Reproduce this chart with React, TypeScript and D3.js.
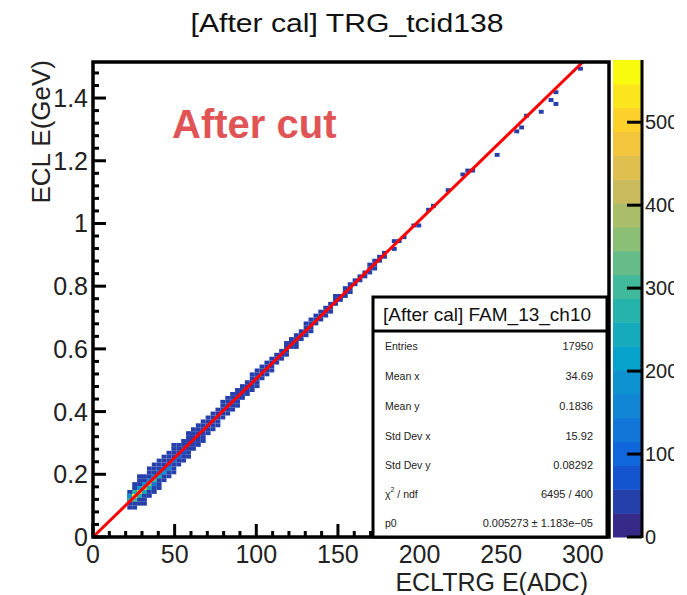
import React from "react";
import * as d3 from "d3";

// ---------- data ----------
const titleText = "[After cal] TRG_tcid138";
const statsTitle = "[After cal] FAM_13_ch10";
const statLabels = ["Entries", "Mean x", "Mean y", "Std Dev x", "Std Dev y", "CHI", "p0"];
const statValues = ["17950", "34.69", "0.1836", "15.92", "0.08292", "6495 / 400", "0.005273 \u00b1 1.183e\u221205"];

const xTicks = [0, 50, 100, 150, 200, 250, 300];
const yTicks = [0, 0.2, 0.4, 0.6, 0.8, 1, 1.2, 1.4];
const zTicks = [0, 100, 200, 300, 400, 500];

const xDomain = [0, 316];
const yDomain = [0, 1.515];
const zMax = 575;
const nContours = 20;
const binW = 3;
const binH = 0.0125;

// dense band: column start (ADC), lower / upper edge (GeV), typical count
const bandX = [21, 24, 27, 30, 33, 36, 39, 42, 45, 48, 51, 54, 57, 60, 63, 66, 69, 72, 75, 78, 81, 84, 87, 90, 93, 96, 99, 102, 105, 108, 111, 114, 117, 120, 123, 126, 129, 132, 135, 138, 141, 144, 147, 150, 153, 156, 159, 162, 165, 168, 171, 174, 177];
const bandLo = [0.090, 0.088, 0.100, 0.112, 0.128, 0.145, 0.160, 0.178, 0.195, 0.210, 0.228, 0.248, 0.262, 0.280, 0.295, 0.312, 0.330, 0.345, 0.360, 0.375, 0.390, 0.405, 0.422, 0.440, 0.455, 0.470, 0.485, 0.500, 0.515, 0.535, 0.550, 0.565, 0.578, 0.600, 0.612, 0.628, 0.640, 0.655, 0.675, 0.690, 0.705, 0.720, 0.738, 0.755, 0.770, 0.785, 0.800, 0.815, 0.830, 0.845, 0.860, 0.875, 0.890];
const bandHi = [0.150, 0.172, 0.188, 0.200, 0.215, 0.230, 0.245, 0.260, 0.272, 0.288, 0.300, 0.312, 0.328, 0.342, 0.356, 0.372, 0.386, 0.398, 0.412, 0.426, 0.440, 0.456, 0.470, 0.486, 0.500, 0.515, 0.530, 0.545, 0.560, 0.572, 0.586, 0.600, 0.616, 0.632, 0.648, 0.662, 0.686, 0.696, 0.706, 0.722, 0.736, 0.750, 0.766, 0.775, 0.790, 0.805, 0.820, 0.835, 0.850, 0.865, 0.880, 0.895, 0.910];
const bandN = [40, 40, 40, 40, 40, 40, 40, 40, 40, 40, 40, 40, 40, 40, 40, 40, 40, 40, 40, 40, 40, 40, 40, 40, 40, 40, 40, 40, 40, 40, 40, 40, 40, 40, 40, 40, 40, 40, 40, 40, 40, 40, 40, 35, 35, 35, 35, 35, 35, 35, 35, 35, 35];

// hot cells along the core
const hotX = [21, 21, 24, 24, 24, 27, 27, 27, 30, 30, 30, 33, 33, 33, 36, 36, 36, 39, 39, 42, 42, 45, 45, 48, 51, 54];
const hotY = [0.1125, 0.125, 0.1125, 0.125, 0.1375, 0.125, 0.1375, 0.15, 0.1375, 0.15, 0.1625, 0.15, 0.1625, 0.175, 0.1625, 0.175, 0.1875, 0.1875, 0.2, 0.2, 0.2125, 0.2125, 0.225, 0.2375, 0.25, 0.2625];
const hotN = [280, 200, 300, 575, 260, 260, 480, 220, 250, 420, 180, 230, 360, 160, 140, 300, 150, 250, 130, 200, 110, 150, 90, 120, 90, 70];

// sparse isolated cells at high energy
const sparseX = [183, 183, 186, 189, 195, 198, 204, 207, 216, 225, 228, 231, 246, 258, 261, 264, 273, 279, 282, 282, 297];
const sparseY = [0.9125, 0.9375, 0.9375, 0.95, 0.9875, 0.9875, 1.0375, 1.05, 1.1, 1.15, 1.1625, 1.1625, 1.2125, 1.2875, 1.3, 1.3375, 1.35, 1.3875, 1.4125, 1.375, 1.4875];
const sparseN = [35, 35, 35, 35, 35, 35, 35, 35, 35, 35, 35, 35, 35, 35, 35, 35, 35, 35, 35, 35, 35];

// fit line end points as drawn
const fitX = [0, 300];
const fitY = [0, 1.515];

// ROOT kBird palette
const birdStops = [0.0, 0.125, 0.25, 0.375, 0.5, 0.625, 0.75, 0.875, 1.0];
const birdR = [0.2082, 0.0592, 0.078, 0.0232, 0.1802, 0.5301, 0.8186, 0.9956, 0.9764];
const birdG = [0.1664, 0.3599, 0.5041, 0.6419, 0.7178, 0.7492, 0.7328, 0.7862, 0.9832];
const birdB = [0.5293, 0.8684, 0.8385, 0.7914, 0.6425, 0.4662, 0.3499, 0.1968, 0.0539];

const FONT = "'Liberation Sans', Arial, Helvetica, sans-serif";

export default function App() {
  const xs = d3.scaleLinear().domain(xDomain).range([93, 609]);
  const ys = d3.scaleLinear().domain(yDomain).range([537, 62]);
  const zs = d3.scaleLinear().domain([0, zMax]).range([537, 60]);

  const bird = d3
    .scaleLinear<string>()
    .domain(birdStops)
    .range(birdStops.map((_, i) => d3.rgb(birdR[i] * 255, birdG[i] * 255, birdB[i] * 255).toString()))
    .interpolate(d3.interpolateRgb);

  const levelColor = (lvl: number) => bird(lvl / (nContours - 1));
  const countColor = (n: number) => {
    const lvl = Math.min(nContours - 1, Math.floor((n / zMax) * nContours));
    return levelColor(lvl);
  };

  type Cell = { x: number; y: number; n: number };
  const cells: Cell[] = [];
  bandX.forEach((x, i) => {
    const j0 = Math.floor(bandLo[i] / binH + 1e-6);
    const j1 = Math.floor(bandHi[i] / binH - 1e-6);
    for (let j = j0; j <= j1; j++) cells.push({ x, y: j * binH, n: bandN[i] });
  });
  sparseX.forEach((x, i) => cells.push({ x, y: sparseY[i], n: sparseN[i] }));
  hotX.forEach((x, i) => cells.push({ x, y: hotY[i], n: hotN[i] }));

  const xMinor = d3.range(0, 311, 10);
  const yMinor = d3.range(0, 1.5, 0.04);

  const fitPath = d3.line<number>()((fitX.map((x, i) => [xs(x), ys(fitY[i])] as [number, number])) as any);

  const zLevels = d3.range(nContours);
  const statY = [350, 380, 410, 440, 469, 498, 527];

  return (
    <svg
      width={687}
      height={595}
      style={{ position: "absolute", left: 0, top: 0, background: "#fff" }}
      fontFamily={FONT}
    >
      <defs>
        <clipPath id="frameClip">
          <rect x={93} y={62} width={516} height={475} />
        </clipPath>
        <clipPath id="pageClip">
          <rect x={0} y={0} width={674} height={595} />
        </clipPath>
      </defs>
      <rect x={0} y={0} width={687} height={595} fill="#fff" />

      {/* title */}
      <text x={347} y={32} textAnchor="middle" fontSize={26} textLength={313} lengthAdjust="spacingAndGlyphs" fill="#111">
        {titleText}
      </text>

      {/* histogram cells */}
      <g clipPath="url(#frameClip)">
        {cells.map((c, i) => (
          <rect
            key={i}
            x={xs(c.x)}
            y={ys(c.y + binH)}
            width={xs(c.x + binW) - xs(c.x)}
            height={ys(c.y) - ys(c.y + binH)}
            fill={countColor(c.n)}
          />
        ))}
        <path d={fitPath || ""} stroke="#ff0000" strokeWidth={3} fill="none" />
      </g>

      {/* axes ticks */}
      <g stroke="#000" strokeWidth={3}>
        {xMinor.map((v) => {
          const major = v % 50 === 0;
          return <line key={"xm" + v} x1={xs(v)} x2={xs(v)} y1={537} y2={537 - (major ? 13 : 6)} />;
        })}
        {yMinor.map((v, i) => {
          const major = i % 5 === 0;
          return <line key={"ym" + i} x1={93} x2={93 + (major ? 13 : 6)} y1={ys(v)} y2={ys(v)} />;
        })}
      </g>
      <rect x={93} y={62} width={516} height={475} fill="none" stroke="#000" strokeWidth={3.5} />

      {/* tick labels */}
      <g fontSize={25} fill="#222">
        {xTicks.map((v) => (
          <text key={"xt" + v} x={xs(v)} y={563} textAnchor="middle">
            {v}
          </text>
        ))}
        {yTicks.map((v) => (
          <text key={"yt" + v} x={88} y={ys(v) + 9} textAnchor="end">
            {v}
          </text>
        ))}
      </g>

      {/* axis titles */}
      <text x={588} y={591} textAnchor="end" fontSize={25} fill="#222">
        ECLTRG E(ADC)
      </text>
      <text transform="translate(50,60) rotate(-90)" textAnchor="end" fontSize={26} fill="#222">
        ECL E(GeV)
      </text>

      {/* annotation */}
      <text x={172} y={138} fontSize={40} fontWeight="bold" fill="#e05455">
        After cut
      </text>

      {/* stats box */}
      <g>
        <rect x={373} y={297} width={234} height={240} fill="#fff" stroke="#000" strokeWidth={3} />
        <line x1={373} x2={607} y1={331} y2={331} stroke="#000" strokeWidth={3} />
        <text x={383} y={321} fontSize={19} fill="#111">
          {statsTitle}
        </text>
        {statLabels.map((l, i) =>
          l === "CHI" ? (
            <text key={l} x={385} y={statY[i]} fontSize={10.5} fill="#222">
              {"\u03c7"}
              <tspan dy={-6} fontSize={7}>2</tspan>
              <tspan dy={6}>{"  / ndf"}</tspan>
            </text>
          ) : (
            <text key={l} x={385} y={statY[i]} fontSize={10.5} fill="#222">
              {l}
            </text>
          )
        )}
        {statValues.map((v, i) => (
          <text key={"sv" + i} x={593} y={statY[i]} fontSize={11} textAnchor="end" fill="#222">
            {v}
          </text>
        ))}
      </g>

      {/* colour bar */}
      <g>
        {zLevels.map((l) => (
          <rect
            key={"z" + l}
            x={613}
            y={zs(((l + 1) * zMax) / nContours)}
            width={28}
            height={zs((l * zMax) / nContours) - zs(((l + 1) * zMax) / nContours) + 0.5}
            fill={levelColor(l)}
          />
        ))}
        <line x1={642} x2={642} y1={60} y2={538} stroke="#000" strokeWidth={3} />
        {zTicks.map((v) => (
          <line key={"zt" + v} x1={627} x2={642} y1={zs(v)} y2={zs(v)} stroke="#000" strokeWidth={3} />
        ))}
        <g clipPath="url(#pageClip)" fontSize={20} fill="#222">
          {zTicks.map((v) => (
            <text key={"zl" + v} x={645} y={zs(v) + 7}>
              {v}
            </text>
          ))}
        </g>
      </g>
    </svg>
  );
}
